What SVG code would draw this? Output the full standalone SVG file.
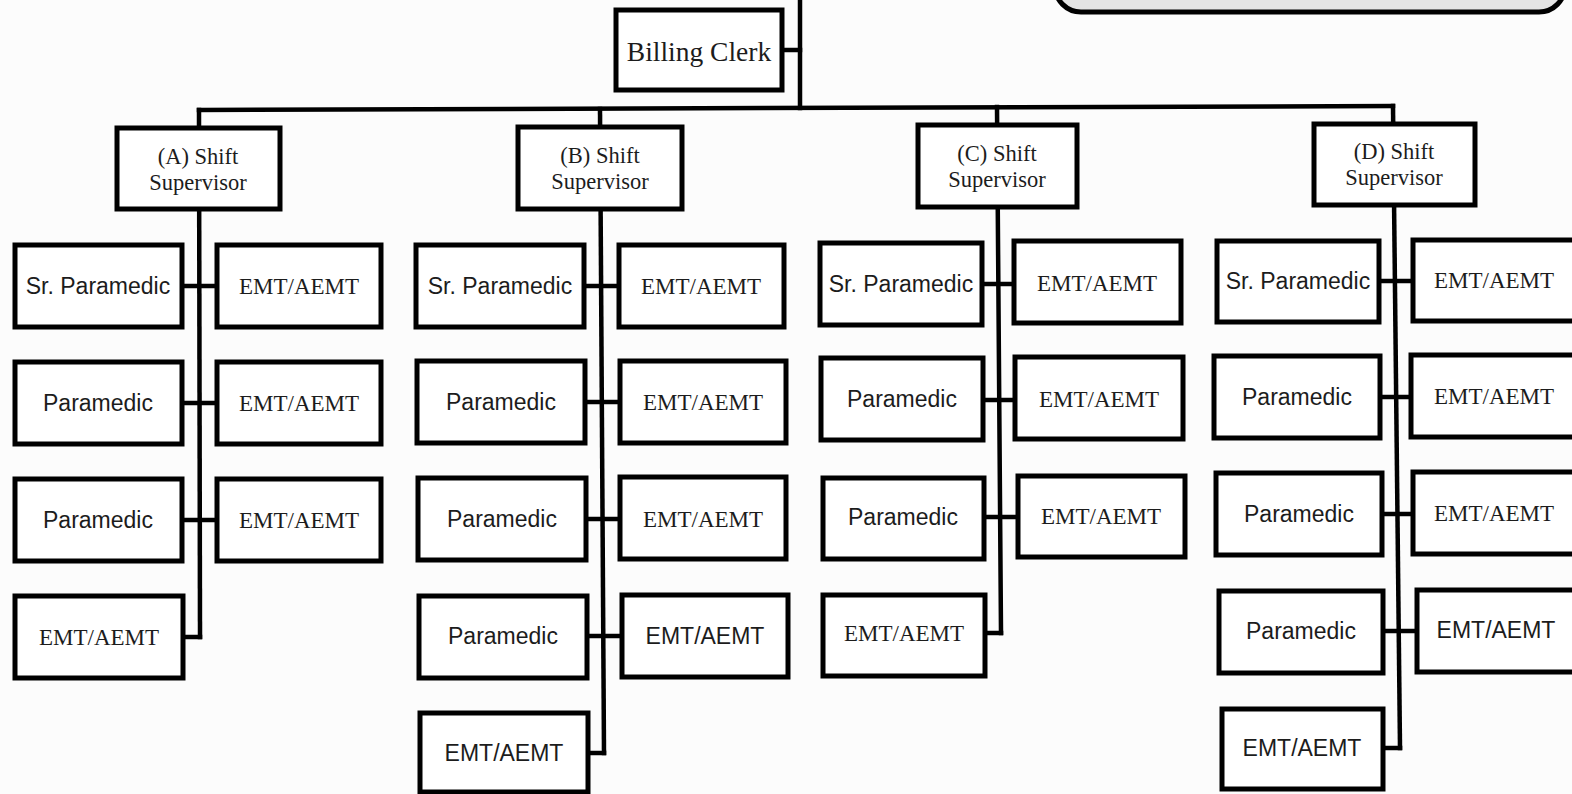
<svg xmlns="http://www.w3.org/2000/svg" width="1572" height="794" viewBox="0 0 1572 794">
<style>
.box{fill:#ffffff;stroke:#000;stroke-width:5}
.conn line{stroke:#000;stroke-width:4.5;stroke-linecap:square}
.serif{font-family:"Liberation Serif","Times New Roman",serif;font-size:23px;fill:#1c1c1c;text-anchor:middle}
.sans{font-family:"Liberation Sans",Arial,sans-serif;font-size:23px;fill:#1c1c1c;text-anchor:middle}
.sup{font-size:22.5px}
</style>
<rect width="1572" height="794" fill="#fcfcfc"/>
<g id="top-box"><rect x="1055" y="-70" width="510" height="82" rx="26" fill="#e4e4e4" stroke="#000" stroke-width="5"/></g>
<g class="conn" id="connectors">
<line x1="800" y1="0" x2="800" y2="108"/>
<line x1="782" y1="50" x2="800" y2="50"/>
<line x1="199" y1="110" x2="1393" y2="106"/>
<line x1="199" y1="110" x2="200" y2="637"/>
<line x1="183" y1="637" x2="200" y2="637"/>
<line x1="182" y1="286" x2="217" y2="286"/>
<line x1="182" y1="403" x2="217" y2="403"/>
<line x1="182" y1="520" x2="217" y2="520"/>
<line x1="600" y1="109" x2="604" y2="753"/>
<line x1="588" y1="753" x2="604" y2="753"/>
<line x1="584" y1="286" x2="619" y2="286"/>
<line x1="585" y1="402" x2="620" y2="402"/>
<line x1="586" y1="519" x2="620" y2="519"/>
<line x1="587" y1="636" x2="622" y2="636"/>
<line x1="997" y1="107" x2="1001" y2="633"/>
<line x1="985" y1="633" x2="1001" y2="633"/>
<line x1="982" y1="284" x2="1014" y2="284"/>
<line x1="983" y1="400" x2="1015" y2="400"/>
<line x1="984" y1="517" x2="1018" y2="517"/>
<line x1="1393" y1="106" x2="1400" y2="748"/>
<line x1="1383" y1="748" x2="1400" y2="748"/>
<line x1="1379" y1="281" x2="1413" y2="281"/>
<line x1="1380" y1="397" x2="1411" y2="397"/>
<line x1="1382" y1="514" x2="1413" y2="514"/>
<line x1="1383" y1="631" x2="1417" y2="631"/>
</g>
<g id="billing-clerk"><rect class="box" x="616" y="10" width="166" height="80"/><text class="serif" x="699" y="61" style="font-size:27.5px">Billing Clerk</text></g>
<g id="supA"><rect class="box" x="117" y="128" width="163" height="81"/><text class="serif sup" x="198" y="164">(A) Shift</text><text class="serif sup" x="198" y="190">Supervisor</text></g>
<g id="supB"><rect class="box" x="518" y="127" width="164" height="82"/><text class="serif sup" x="600" y="163">(B) Shift</text><text class="serif sup" x="600" y="189">Supervisor</text></g>
<g id="supC"><rect class="box" x="918" y="125" width="159" height="82"/><text class="serif sup" x="997" y="161">(C) Shift</text><text class="serif sup" x="997" y="187">Supervisor</text></g>
<g id="supD"><rect class="box" x="1314" y="124" width="161" height="81"/><text class="serif sup" x="1394" y="159">(D) Shift</text><text class="serif sup" x="1394" y="185">Supervisor</text></g>
<g id="A1L"><rect class="box" x="15" y="245" width="167" height="82"/><text class="sans" x="98" y="294">Sr. Paramedic</text></g>
<g id="A1R"><rect class="box" x="217" y="245" width="164" height="82"/><text class="serif" x="299" y="294">EMT/AEMT</text></g>
<g id="A2L"><rect class="box" x="15" y="362" width="167" height="82"/><text class="sans" x="98" y="411">Paramedic</text></g>
<g id="A2R"><rect class="box" x="217" y="362" width="164" height="82"/><text class="serif" x="299" y="411">EMT/AEMT</text></g>
<g id="A3L"><rect class="box" x="15" y="479" width="167" height="82"/><text class="sans" x="98" y="528">Paramedic</text></g>
<g id="A3R"><rect class="box" x="217" y="479" width="164" height="82"/><text class="serif" x="299" y="528">EMT/AEMT</text></g>
<g id="A4"><rect class="box" x="15" y="596" width="168" height="82"/><text class="serif" x="99" y="645">EMT/AEMT</text></g>
<g id="B1L"><rect class="box" x="416" y="245" width="168" height="82"/><text class="sans" x="500" y="294">Sr. Paramedic</text></g>
<g id="B1R"><rect class="box" x="619" y="245" width="165" height="82"/><text class="serif" x="701" y="294">EMT/AEMT</text></g>
<g id="B2L"><rect class="box" x="417" y="361" width="168" height="82"/><text class="sans" x="501" y="410">Paramedic</text></g>
<g id="B2R"><rect class="box" x="620" y="361" width="166" height="82"/><text class="serif" x="703" y="410">EMT/AEMT</text></g>
<g id="B3L"><rect class="box" x="418" y="478" width="168" height="82"/><text class="sans" x="502" y="527">Paramedic</text></g>
<g id="B3R"><rect class="box" x="620" y="477" width="166" height="82"/><text class="serif" x="703" y="527">EMT/AEMT</text></g>
<g id="B4L"><rect class="box" x="419" y="596" width="168" height="82"/><text class="sans" x="503" y="644">Paramedic</text></g>
<g id="B4R"><rect class="box" x="622" y="595" width="166" height="82"/><text class="sans" x="705" y="644">EMT/AEMT</text></g>
<g id="B5"><rect class="box" x="420" y="713" width="168" height="79"/><text class="sans" x="504" y="761">EMT/AEMT</text></g>
<g id="C1L"><rect class="box" x="820" y="243" width="162" height="82"/><text class="sans" x="901" y="292">Sr. Paramedic</text></g>
<g id="C1R"><rect class="box" x="1014" y="241" width="167" height="82"/><text class="serif" x="1097" y="291">EMT/AEMT</text></g>
<g id="C2L"><rect class="box" x="821" y="358" width="162" height="82"/><text class="sans" x="902" y="407">Paramedic</text></g>
<g id="C2R"><rect class="box" x="1015" y="357" width="168" height="82"/><text class="serif" x="1099" y="407">EMT/AEMT</text></g>
<g id="C3L"><rect class="box" x="823" y="478" width="161" height="81"/><text class="sans" x="903" y="525">Paramedic</text></g>
<g id="C3R"><rect class="box" x="1018" y="476" width="167" height="81"/><text class="serif" x="1101" y="524">EMT/AEMT</text></g>
<g id="C4"><rect class="box" x="823" y="595" width="162" height="81"/><text class="serif" x="904" y="641">EMT/AEMT</text></g>
<g id="D1L"><rect class="box" x="1217" y="241" width="162" height="81"/><text class="sans" x="1298" y="289">Sr. Paramedic</text></g>
<g id="D1R"><rect class="box" x="1413" y="240" width="164" height="81"/><text class="serif" x="1494" y="288">EMT/AEMT</text></g>
<g id="D2L"><rect class="box" x="1214" y="356" width="166" height="82"/><text class="sans" x="1297" y="405">Paramedic</text></g>
<g id="D2R"><rect class="box" x="1411" y="355" width="166" height="82"/><text class="serif" x="1494" y="404">EMT/AEMT</text></g>
<g id="D3L"><rect class="box" x="1216" y="473" width="166" height="82"/><text class="sans" x="1299" y="522">Paramedic</text></g>
<g id="D3R"><rect class="box" x="1413" y="472" width="164" height="82"/><text class="serif" x="1494" y="521">EMT/AEMT</text></g>
<g id="D4L"><rect class="box" x="1219" y="591" width="164" height="82"/><text class="sans" x="1301" y="639">Paramedic</text></g>
<g id="D4R"><rect class="box" x="1417" y="590" width="164" height="82"/><text class="sans" x="1496" y="638">EMT/AEMT</text></g>
<g id="D5"><rect class="box" x="1222" y="709" width="161" height="80"/><text class="sans" x="1302" y="756">EMT/AEMT</text></g>
</svg>
